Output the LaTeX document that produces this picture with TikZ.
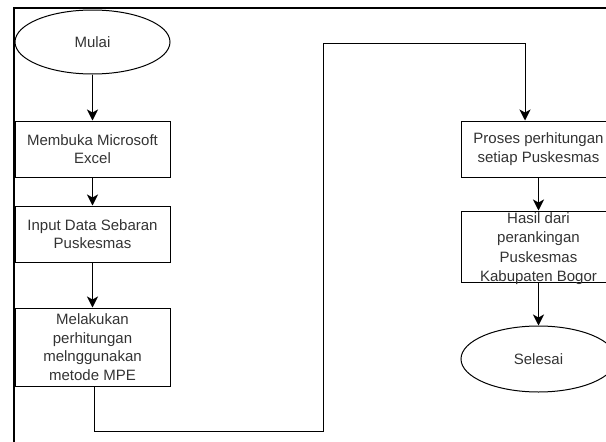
\documentclass[tikz,border=0pt]{standalone}
\usepackage{fontspec}
\setmainfont{Liberation Sans}
\usetikzlibrary{shapes.geometric,arrows.meta}
\begin{document}
\begin{tikzpicture}[x=1pt,y=-1pt,
  txt/.style={font=\fontsize{15}{18.5}\selectfont, text=black!80, align=center},
  procbox/.style={txt, draw, line width=1pt, rectangle, minimum width=155pt, inner sep=0pt},
  terminal/.style={txt, draw, line width=1pt, ellipse, minimum width=155pt, inner sep=0pt},
  flow/.style={draw, line width=1pt, -{Stealth[length=11pt,width=11pt,inset=3pt]}},
  link/.style={draw, line width=1pt}]
\useasboundingbox (0,0) rectangle (606,442);
% page frame
\draw[line width=2pt] (14,442) -- (14,8) -- (606,8);
% left column
\node[terminal, minimum height=64pt] (mulai) at (92.5,42) {Mulai};
\node[procbox, minimum height=56pt] (b1) at (92.5,149) {Membuka Microsoft\\Excel};
\node[procbox, minimum height=56pt] (b2) at (92.5,234) {Input Data Sebaran\\Puskesmas};
\node[procbox, minimum height=78pt] (b3) at (92.5,347) {Melakukan\\perhitungan\\melnggunakan\\metode MPE};
% right column
\node[procbox, minimum height=56pt] (b4) at (538.5,149) {Proses perhitungan\\setiap Puskesmas};
% box whose four-line text sits low and reaches the lower edge
\node[procbox, minimum height=71pt] (b5) at (538.5,246.5) {};
\node[txt, font=\fontsize{15}{19.5}\selectfont, inner sep=0pt] (b5text) at (538.5,248.5) {Hasil dari\\perankingan\\Puskesmas\\Kabupaten Bogor};
\node[terminal, minimum height=66pt] (selesai) at (538.5,359) {Selesai};
% routing points of the long connector
\coordinate (r1) at (323,431);
\coordinate (r2) at (323,43);
\coordinate (r3) at (525,43);
% connectors
\draw[flow] (mulai) -- (b1);
\draw[flow] (b1) -- (b2);
\draw[flow] (b2) -- (b3);
\draw[flow] ([xshift=1.5pt]b3.south) -- ([xshift=1.5pt]b3.south |- r1) -- (r1) -- (r2) -- (r3) -- (r3 |- b4.north);
\draw[flow] (b4) -- (b5);
\draw[flow] (b5) -- (selesai);
\end{tikzpicture}
\end{document}
